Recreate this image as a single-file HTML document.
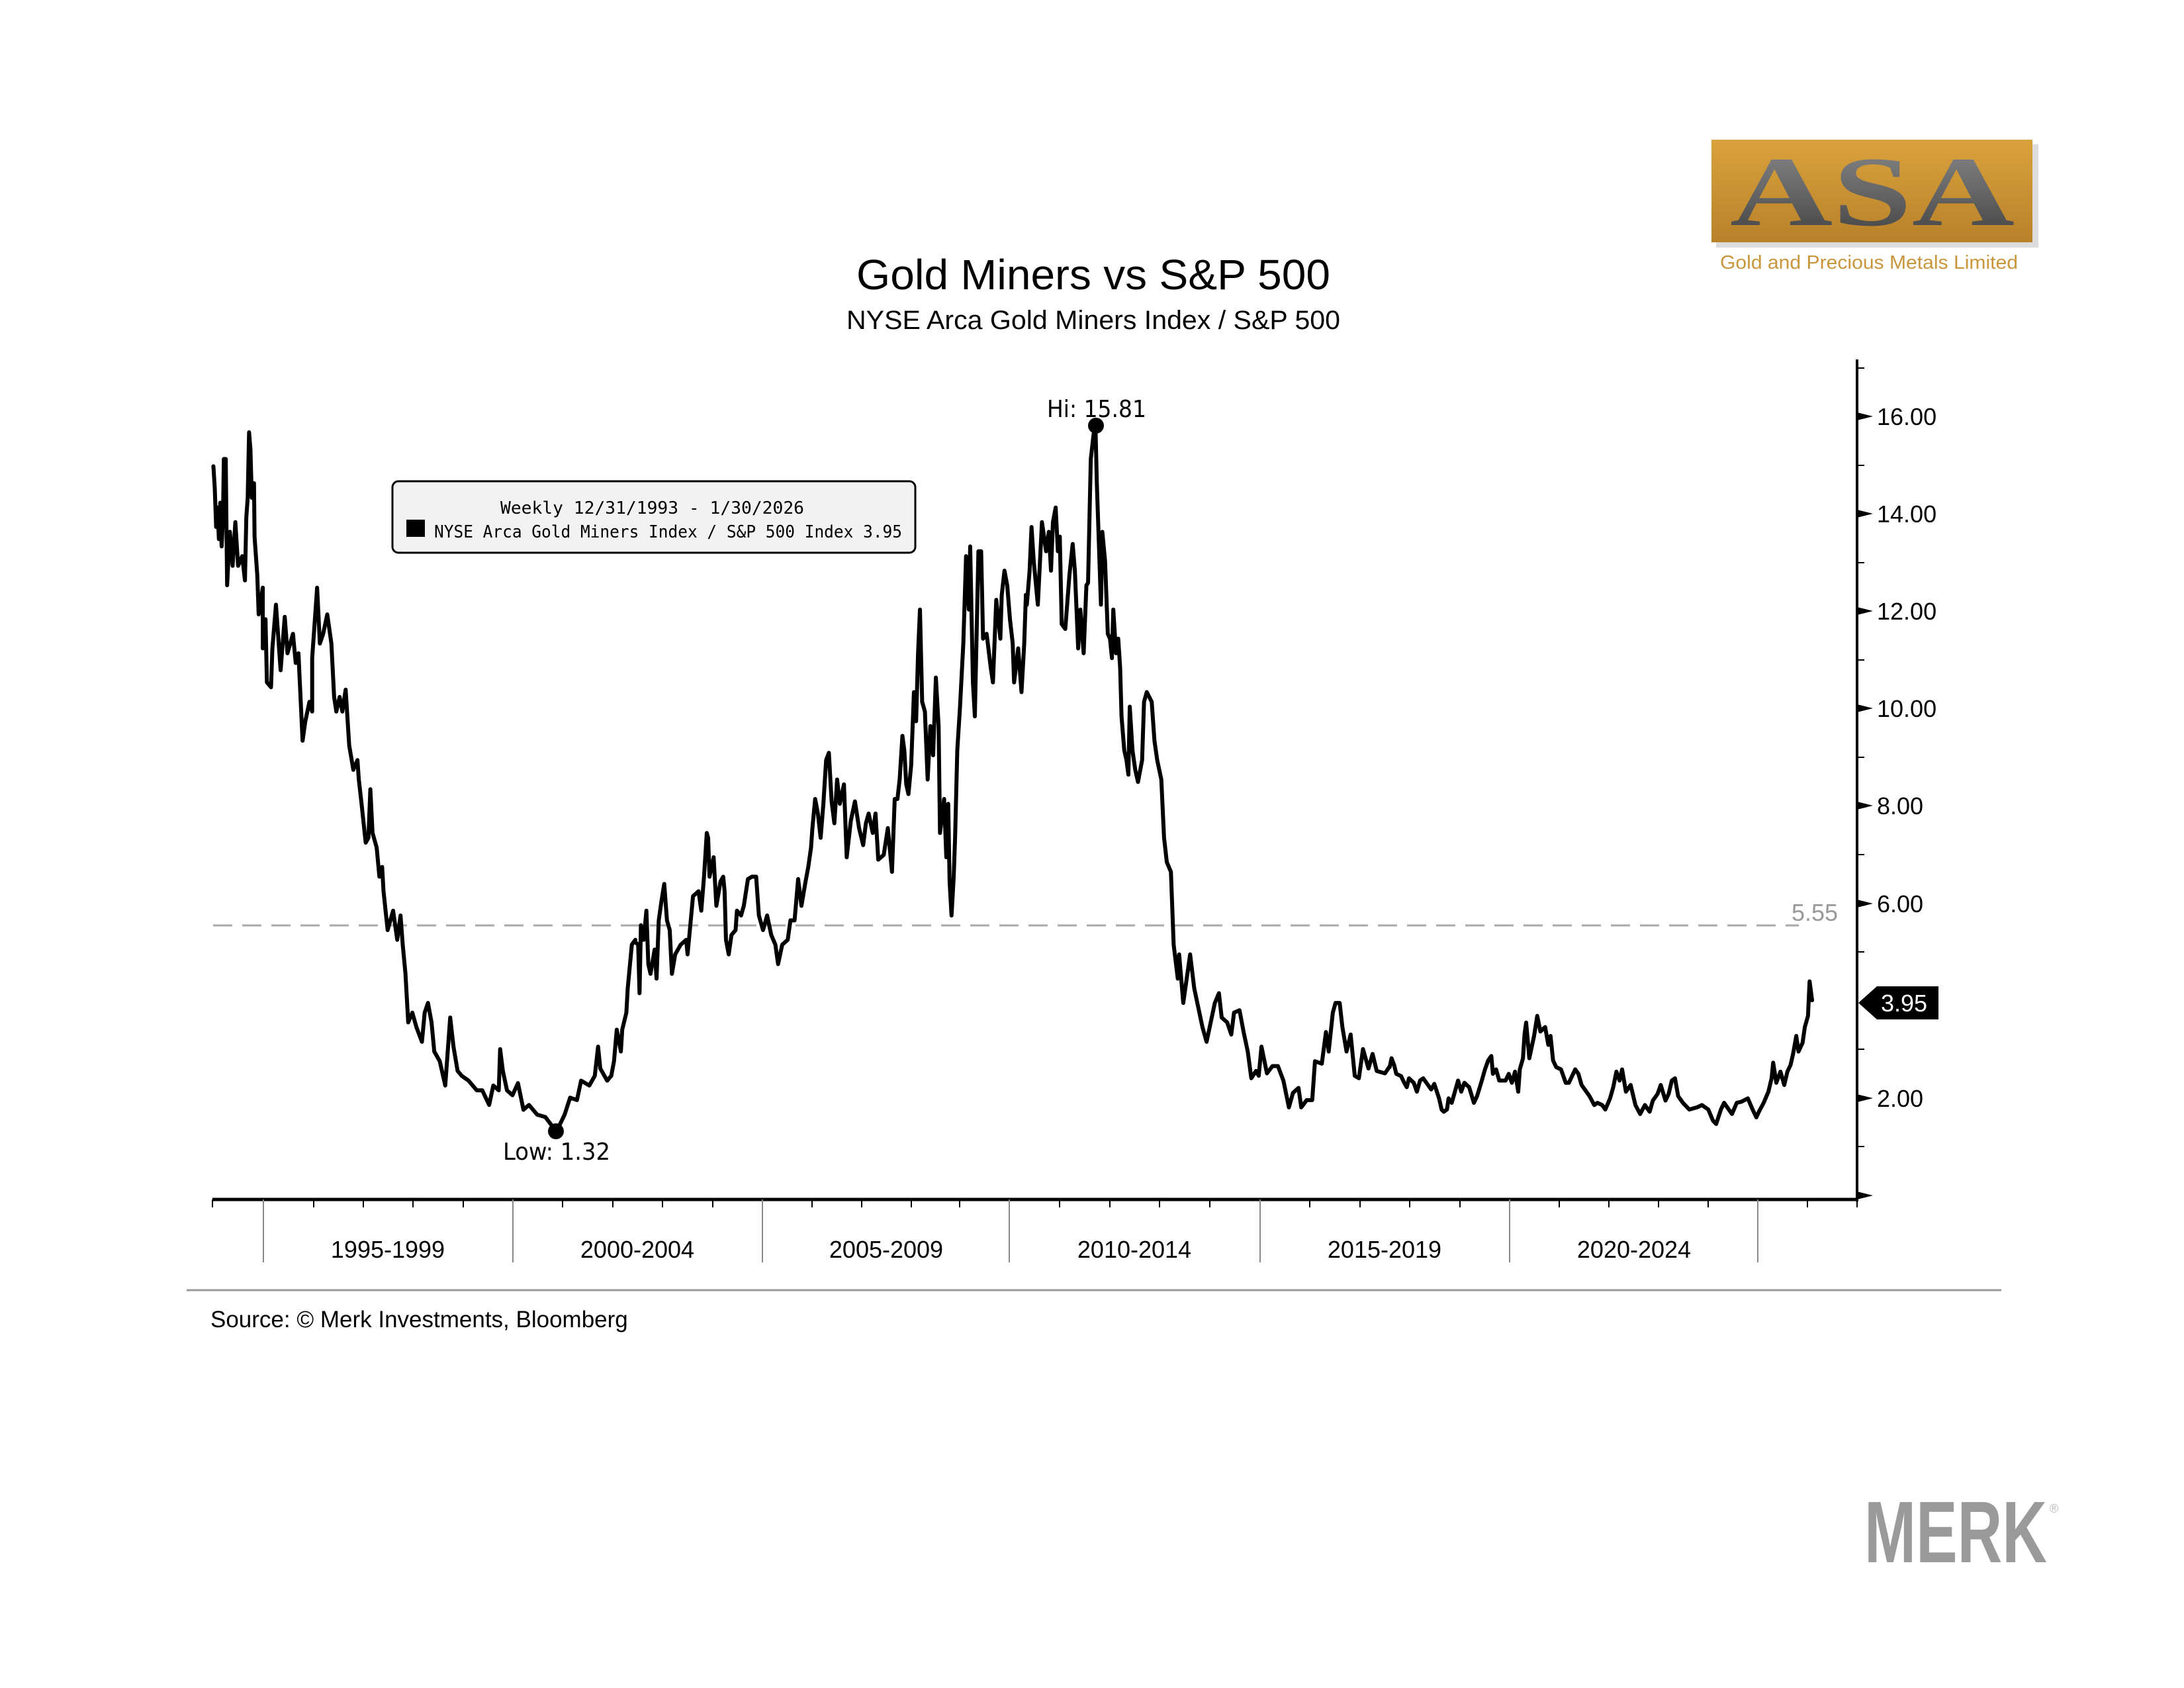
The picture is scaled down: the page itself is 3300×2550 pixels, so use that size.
<!DOCTYPE html>
<html><head><meta charset="utf-8"><style>
html,body{margin:0;padding:0;background:#fff;}
svg{display:block;}
</style></head><body>
<svg width="3300" height="2550" viewBox="0 0 3300 2550" xmlns="http://www.w3.org/2000/svg" font-family="'Liberation Sans', Arial, sans-serif">
<rect width="3300" height="2550" fill="#fff"/>

<!-- ASA logo -->
<defs>
<linearGradient id="gold" x1="0" y1="0" x2="0" y2="1">
<stop offset="0" stop-color="#d9a23c"/><stop offset="1" stop-color="#b9812a"/></linearGradient>
<linearGradient id="gray" x1="0" y1="0" x2="0" y2="1">
<stop offset="0" stop-color="#8a8a8a"/><stop offset="0.5" stop-color="#666"/><stop offset="1" stop-color="#3e3e3e"/></linearGradient>
</defs>
<rect x="2593" y="218" width="487" height="156" fill="#ddd"/>
<rect x="2586" y="211" width="485" height="155" fill="url(#gold)"/>
<text x="2829" y="340" text-anchor="middle" font-family="'Liberation Serif', serif" font-weight="bold" font-size="150" fill="url(#gray)" textLength="430" lengthAdjust="spacingAndGlyphs">ASA</text>
<text x="2824" y="406" text-anchor="middle" font-size="29" fill="#c8963c" textLength="450" lengthAdjust="spacingAndGlyphs">Gold and Precious Metals Limited</text>

<!-- Titles -->
<text x="1652" y="437" text-anchor="middle" font-size="64" fill="#000" textLength="716" lengthAdjust="spacingAndGlyphs">Gold Miners vs S&amp;P 500</text>
<text x="1652" y="497" text-anchor="middle" font-size="40" fill="#000" textLength="746" lengthAdjust="spacingAndGlyphs">NYSE Arca Gold Miners Index / S&amp;P 500</text>

<!-- 5.55 dashed -->
<line x1="322" y1="1398" x2="2718" y2="1398" stroke="#aaa" stroke-width="3" stroke-dasharray="29,15"/>
<text x="2707" y="1391" font-size="36" fill="#999">5.55</text>

<!-- Y axis -->
<line x1="2806" y1="543" x2="2806" y2="1815" stroke="#000" stroke-width="4"/>
<g fill="#000">
<polygon points="2806,623 2830,629 2806,635"/>
<polygon points="2806,770 2830,776 2806,782"/>
<polygon points="2806,917 2830,923 2806,929"/>
<polygon points="2806,1064 2830,1070 2806,1076"/>
<polygon points="2806,1211 2830,1217 2806,1223"/>
<polygon points="2806,1359 2830,1365 2806,1371"/>
<polygon points="2806,1653 2830,1659 2806,1665"/>
<polygon points="2806,1800 2830,1806 2806,1812"/>
</g>
<g stroke="#000" stroke-width="2">
<line x1="2806" y1="556" x2="2817" y2="556"/>
<line x1="2806" y1="703" x2="2817" y2="703"/>
<line x1="2806" y1="850" x2="2817" y2="850"/>
<line x1="2806" y1="997" x2="2817" y2="997"/>
<line x1="2806" y1="1144" x2="2817" y2="1144"/>
<line x1="2806" y1="1291" x2="2817" y2="1291"/>
<line x1="2806" y1="1438" x2="2817" y2="1438"/>
<line x1="2806" y1="1585" x2="2817" y2="1585"/>
<line x1="2806" y1="1732" x2="2817" y2="1732"/>
</g>
<g font-size="36" fill="#000">
<text x="2836" y="642">16.00</text>
<text x="2836" y="789">14.00</text>
<text x="2836" y="936">12.00</text>
<text x="2836" y="1083">10.00</text>
<text x="2836" y="1230">8.00</text>
<text x="2836" y="1378">6.00</text>
<text x="2836" y="1672">2.00</text>
</g>
<polygon points="2808,1515 2836,1490 2929,1490 2929,1540 2836,1540" fill="#000"/>
<text x="2842" y="1528" font-size="36" fill="#fff">3.95</text>

<!-- X axis -->
<line x1="321" y1="1812" x2="2806" y2="1812" stroke="#000" stroke-width="5"/>
<g stroke="#000" stroke-width="2">
<line x1="321" y1="1812" x2="321" y2="1824"/><line x1="474" y1="1812" x2="474" y2="1824"/><line x1="549" y1="1812" x2="549" y2="1824"/><line x1="624" y1="1812" x2="624" y2="1824"/><line x1="700" y1="1812" x2="700" y2="1824"/>
<line x1="850" y1="1812" x2="850" y2="1824"/><line x1="926" y1="1812" x2="926" y2="1824"/><line x1="1001" y1="1812" x2="1001" y2="1824"/><line x1="1077" y1="1812" x2="1077" y2="1824"/>
<line x1="1227" y1="1812" x2="1227" y2="1824"/><line x1="1302" y1="1812" x2="1302" y2="1824"/><line x1="1377" y1="1812" x2="1377" y2="1824"/><line x1="1450" y1="1812" x2="1450" y2="1824"/>
<line x1="1601" y1="1812" x2="1601" y2="1824"/><line x1="1677" y1="1812" x2="1677" y2="1824"/><line x1="1752" y1="1812" x2="1752" y2="1824"/><line x1="1828" y1="1812" x2="1828" y2="1824"/>
<line x1="1979" y1="1812" x2="1979" y2="1824"/><line x1="2055" y1="1812" x2="2055" y2="1824"/><line x1="2130" y1="1812" x2="2130" y2="1824"/><line x1="2206" y1="1812" x2="2206" y2="1824"/>
<line x1="2356" y1="1812" x2="2356" y2="1824"/><line x1="2431" y1="1812" x2="2431" y2="1824"/><line x1="2506" y1="1812" x2="2506" y2="1824"/><line x1="2581" y1="1812" x2="2581" y2="1824"/>
<line x1="2731" y1="1812" x2="2731" y2="1824"/><line x1="2806" y1="1812" x2="2806" y2="1824"/>
</g>
<g stroke="#888" stroke-width="2">
<line x1="398" y1="1812" x2="398" y2="1907"/><line x1="775" y1="1812" x2="775" y2="1907"/><line x1="1152" y1="1812" x2="1152" y2="1907"/><line x1="1525" y1="1812" x2="1525" y2="1907"/><line x1="1904" y1="1812" x2="1904" y2="1907"/><line x1="2281" y1="1812" x2="2281" y2="1907"/><line x1="2656" y1="1812" x2="2656" y2="1907"/>
</g>
<g font-size="36" fill="#000" text-anchor="middle">
<text x="586" y="1900">1995-1999</text>
<text x="963" y="1900">2000-2004</text>
<text x="1339" y="1900">2005-2009</text>
<text x="1714" y="1900">2010-2014</text>
<text x="2092" y="1900">2015-2019</text>
<text x="2469" y="1900">2020-2024</text>
</g>

<!-- Legend -->
<rect x="593" y="727" width="790" height="108" rx="9" fill="#f2f2f2" stroke="#000" stroke-width="3"/>
<g font-family="'DejaVu Sans Mono', 'Liberation Mono', monospace" font-size="26" fill="#000">
<text x="756" y="776" textLength="459" lengthAdjust="spacingAndGlyphs">Weekly 12/31/1993 - 1/30/2026</text>
<rect x="614" y="785" width="28" height="26" fill="#000"/>
<text x="656" y="812" textLength="707" lengthAdjust="spacingAndGlyphs">NYSE Arca Gold Miners Index / S&amp;P 500 Index 3.95</text>
</g>

<!-- Series -->
<g fill="none" stroke="#000" stroke-width="6" stroke-linejoin="round" stroke-linecap="round">
<polyline vector-effect="non-scaling-stroke" transform="translate(310,620) scale(0.4146,0.7337)" points="30,115 35,160 40,240 45,200 50,265 55,190 60,280 65,220 68,100 75,100 80,360 90,250 100,320 110,230 120,320 135,300 145,350 150,220 155,180 160,45 165,80 170,180 178,150 180,260 190,340 195,420 210,365 210,490 220,430 225,560 240,570 245,490 258,400 275,535 290,425 300,500 320,460 330,520 340,500 355,680 365,640 380,600 390,620 390,510 408,365 418,480 430,460 445,420 460,480 470,590 478,620 490,590 500,620 512,575 525,690 540,740 555,720 560,760 570,810 585,890 595,880 602,780 610,870 625,900 635,960 645,940 650,990 665,1070 685,1030 700,1090 712,1040 720,1100 730,1160 740,1260 755,1240 770,1270 790,1300 800,1240 812,1220 825,1260 835,1320 855,1340 875,1390 893,1250 905,1310 920,1360 935,1370 960,1380 990,1400 1010,1400 1035,1430 1050,1390 1070,1400 1075,1315 1085,1360 1100,1400 1120,1410 1140,1385 1160,1440 1180,1430 1210,1450 1240,1455 1260,1470 1280,1485 1310,1450 1330,1415 1355,1420 1370,1380 1400,1390 1420,1370 1432,1310 1440,1355 1465,1380 1480,1370 1490,1340 1500,1275 1515,1320 1520,1275 1535,1240 1540,1190 1555,1100 1568,1090"/>
<polyline vector-effect="non-scaling-stroke" transform="translate(900,620) scale(0.4146,0.7337)" points="145,1095 155,1100 160,1200 165,1060 175,1090 185,1030 192,1140 200,1160 215,1110 222,1170 230,1050 240,1010 250,975 260,1050 270,1070 278,1160 290,1120 310,1100 330,1090 335,1120 345,1060 355,1000 375,990 385,1030 395,960 405,870 410,880 415,960 430,920 440,1020 455,970 465,960 470,990 475,1090 485,1120 495,1080 510,1070 515,1030 530,1040 540,1020 555,965 570,960 585,960 595,1040 610,1070 625,1040 640,1080 655,1100 665,1140 680,1100 700,1090 710,1050 725,1050 738,965 750,1020 765,970 775,940 785,900 790,860 800,800 810,830 820,880 830,810 840,720 850,705 860,805 870,850 880,760 890,810 905,770 915,920 930,845 945,805 960,860 975,895 985,850 995,830 1010,870 1020,830 1030,925 1050,915 1065,860 1080,950 1090,800 1100,800 1108,760 1118,670 1125,700 1132,770 1140,790 1150,730 1160,580 1168,640 1175,500 1182,410 1190,600 1200,620 1210,760 1220,650 1230,710 1240,550 1250,650 1255,870 1270,800 1278,920 1285,810 1290,970 1297,1040 1305,960 1310,880 1318,700 1328,610 1340,480 1350,300 1360,410 1365,280 1375,560 1382,630 1395,290 1405,290 1412,470 1425,460 1440,530 1448,560 1460,390 1475,470 1480,380 1490,330 1500,360 1510,430 1520,480 1525,560 1540,490 1552,580 1562,480 1568,380"/>
<polyline vector-effect="non-scaling-stroke" transform="translate(1450,620) scale(0.4146,0.7337)" points="241,380 245,400 255,330 262,240 270,310 285,400 300,230 315,290 325,250 333,330 340,230 350,200 358,290 365,260 372,440 385,450 400,340 412,275 420,330 432,490 440,410 452,500 462,360 468,355 478,100 488,50 495,30 500,150 515,400 520,250 530,310 540,460 548,470 555,510 560,410 570,500 578,470 585,530 590,630 600,700 608,720 615,750 620,610 630,700 640,740 650,765 665,720 672,600 682,580 700,600 710,680 720,720 735,760 745,880 755,930 770,950 780,1100 795,1170 800,1120 815,1220 825,1180 840,1120 855,1190 870,1230 885,1270 900,1300 915,1260 930,1220 945,1200 955,1250 975,1260 990,1285 1000,1240 1020,1235 1035,1280 1050,1320 1063,1375 1080,1360 1090,1370 1100,1310 1120,1365 1140,1350 1160,1350 1180,1380 1200,1435 1215,1405 1235,1395 1245,1435 1265,1420 1285,1420 1295,1340 1320,1345 1335,1280 1345,1320 1360,1240 1370,1220 1385,1220 1395,1270 1410,1320 1425,1285 1440,1370 1455,1375 1470,1315 1490,1355 1505,1325 1520,1360 1550,1365 1568,1350"/>
<polyline vector-effect="non-scaling-stroke" transform="translate(2050,1400) scale(0.4785,0.3367)" points="104,630 110,590 118,620 125,660 140,670 150,700 158,720 165,680 180,700 190,740 200,690 210,680 220,700 235,730 245,705 260,770 268,820 275,830 285,820 290,770 300,790 310,740 320,690 330,740 340,700 355,720 370,790 380,760 395,690 405,640 415,600 425,580 430,660 440,640 450,690 470,690 480,660 490,700 500,650 510,740 515,640 525,590 530,480 535,430 545,590 560,490 570,400 580,470 595,450 605,530 612,490 620,600 630,630 645,640 660,700 670,700 690,640 700,660 710,710 720,730 735,760 750,800 760,790 775,800 785,820 800,770 810,720 820,650 830,690 838,640 850,740 865,710 880,800 895,840 910,800 925,830 935,780 950,750 960,710 975,780 985,750 995,690 1005,680 1015,760 1030,790 1050,820 1075,810 1090,800 1110,820 1125,870 1135,885 1150,820 1160,790 1175,820 1185,840 1200,790 1215,785 1235,770 1250,820 1262,855 1270,830 1285,790 1300,740 1310,680 1315,610 1325,700 1338,650 1350,710 1360,650 1370,620 1378,570 1388,490 1395,560 1408,520 1415,450 1425,400 1430,245 1438,330"/>
</g>

<!-- Hi / Low -->
<circle cx="1656" cy="643" r="12" fill="#000"/>
<text x="1582" y="630" font-family="'DejaVu Sans', sans-serif" font-size="36" fill="#000" textLength="150" lengthAdjust="spacingAndGlyphs">Hi: 15.81</text>
<circle cx="840" cy="1709" r="12" fill="#000"/>
<text x="760" y="1752" font-family="'DejaVu Sans', sans-serif" font-size="36" fill="#000" textLength="162" lengthAdjust="spacingAndGlyphs">Low: 1.32</text>

<!-- Footer -->
<line x1="282" y1="1949" x2="3024" y2="1949" stroke="#999" stroke-width="3"/>
<text x="318" y="2005" font-size="35" fill="#000">Source: © Merk Investments, Bloomberg</text>

<!-- MERK -->
<text x="2817" y="2360" font-size="132" font-weight="bold" fill="#9a9a9a" textLength="276" lengthAdjust="spacingAndGlyphs">MERK</text>
<text x="3097" y="2285" font-size="18" fill="#bbb">®</text>
</svg>
</body></html>
